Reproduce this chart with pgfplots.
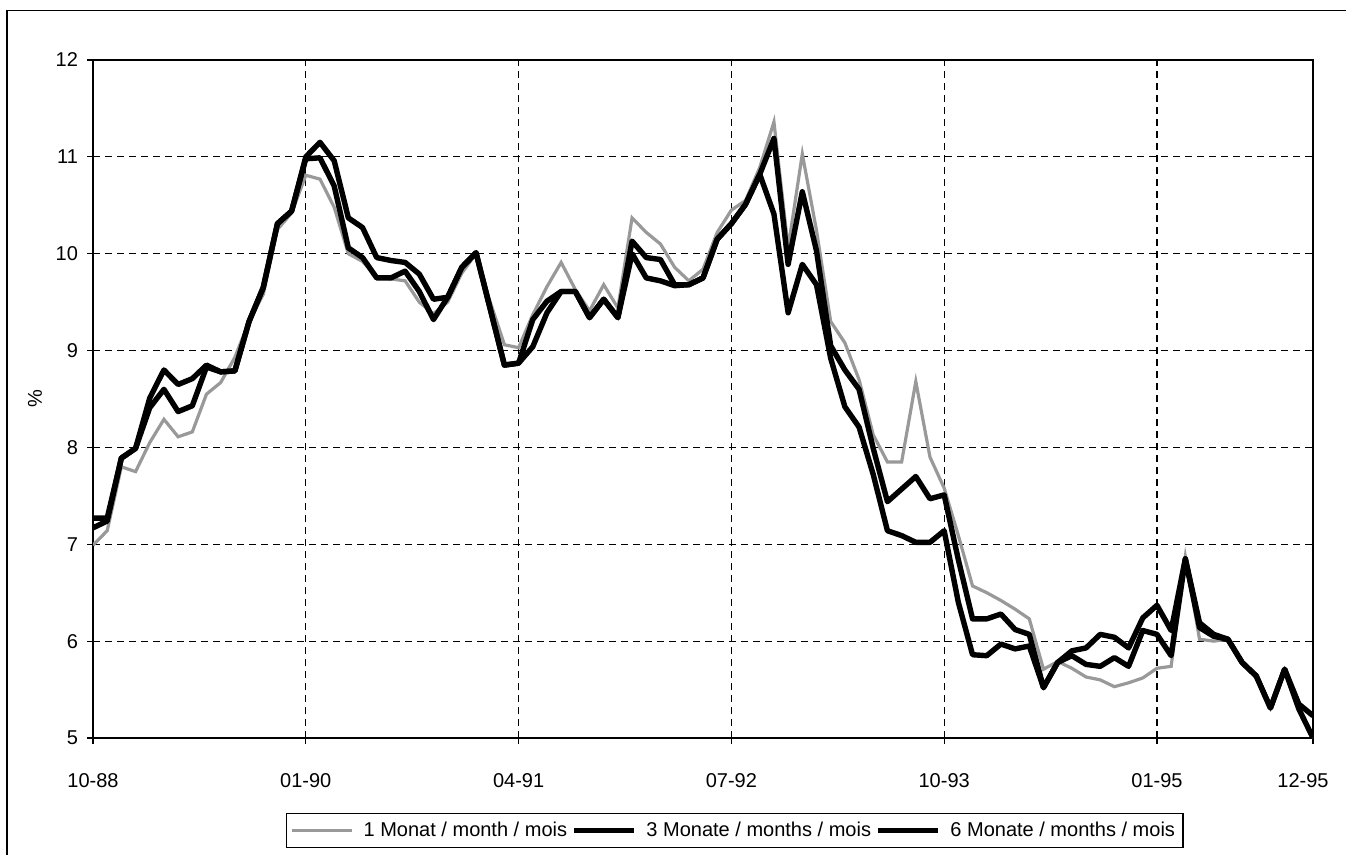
\documentclass[border=0pt]{standalone}
\usepackage{fontspec}
\setmainfont{Liberation Sans}
\usepackage{pgfplots}
\usepackage{pgfplotstable}
\pgfplotsset{compat=1.18}

% i = Monat ab 10-88; g = 1 Monat, a = 3 Monate, b = 6 Monate
\pgfplotstableread{
i g a b
0 6.99 7.27 7.17
1 7.14 7.27 7.24
2 7.80 7.89 7.89
3 7.75 7.99 7.99
4 8.05 8.51 8.41
5 8.29 8.80 8.60
6 8.11 8.65 8.37
7 8.16 8.71 8.43
8 8.55 8.85 8.83
9 8.67 8.78 8.78
10 8.93 8.79 8.79
11 9.30 9.30 9.30
12 9.58 9.65 9.65
13 10.25 10.31 10.31
14 10.42 10.44 10.44
15 10.81 11.00 10.98
16 10.77 11.15 10.99
17 10.48 10.96 10.70
18 10.00 10.37 10.06
19 9.92 10.27 9.96
20 9.76 9.96 9.75
21 9.74 9.93 9.75
22 9.72 9.91 9.82
23 9.50 9.79 9.61
24 9.38 9.53 9.32
25 9.50 9.55 9.55
26 9.80 9.86 9.86
27 10.00 10.01 10.01
28 9.50 9.43 9.43
29 9.06 8.85 8.85
30 9.03 8.87 8.87
31 9.37 9.32 9.04
32 9.66 9.51 9.39
33 9.91 9.61 9.61
34 9.63 9.61 9.61
35 9.41 9.34 9.34
36 9.68 9.53 9.53
37 9.44 9.34 9.34
38 10.37 10.13 10.00
39 10.22 9.96 9.75
40 10.10 9.94 9.72
41 9.86 9.68 9.67
42 9.72 9.68 9.68
43 9.84 9.75 9.75
44 10.22 10.15 10.15
45 10.45 10.31 10.31
46 10.55 10.51 10.51
47 10.89 10.82 10.82
48 11.36 11.19 10.41
49 10.06 9.89 9.39
50 11.03 10.64 9.89
51 10.24 10.03 9.68
52 9.30 9.05 8.92
53 9.08 8.80 8.42
54 8.70 8.60 8.21
55 8.13 7.99 7.72
56 7.85 7.44 7.14
57 7.85 7.57 7.09
58 8.68 7.70 7.02
59 7.90 7.47 7.02
60 7.58 7.51 7.14
61 7.09 6.84 6.40
62 6.57 6.23 5.86
63 6.50 6.23 5.85
64 6.42 6.28 5.97
65 6.33 6.12 5.92
66 6.23 6.07 5.95
67 5.71 5.52 5.52
68 5.79 5.78 5.78
69 5.72 5.90 5.85
70 5.63 5.93 5.76
71 5.60 6.07 5.74
72 5.53 6.04 5.83
73 5.57 5.93 5.74
74 5.62 6.24 6.11
75 5.72 6.37 6.07
76 5.74 6.11 5.85
77 6.87 6.85 6.85
78 6.02 6.19 6.14
79 6.00 6.07 6.05
80 6.02 6.02 6.02
81 5.78 5.78 5.78
82 5.62 5.64 5.64
83 5.31 5.31 5.31
84 5.70 5.71 5.71
85 5.30 5.35 5.30
86 5.00 5.23 5.00
}\zinsen

\begin{document}
\begin{tikzpicture}
\begin{axis}[
    scale only axis,
    width=610pt, height=339pt,
    xmin=0, xmax=86,
    ymin=5, ymax=12,
    xtick={0,15,30,45,60,75},
    xticklabels={10-88,01-90,04-91,07-92,10-93,01-95},
    extra x ticks={86},
    extra x tick labels={12-95},
    extra x tick style={xticklabel style={xshift=-5pt}},
    ytick={5,6,...,12},
    tick pos=left,
    tick align=outside,
    major tick length=3pt,
    tick style={black, line width=0.6pt},
    grid=major,
    major grid style={black, line width=0.6pt, dash pattern=on 3.6pt off 2.4pt},
    axis line style={line width=0.8pt},
    font=\fontsize{10}{12}\selectfont,
    /pgf/number format/assume math mode=true,
    yticklabel style={xshift=-1pt},
    xticklabel style={yshift=-11pt},
    ylabel={\%},
    ylabel style={at={(axis description cs:0,0.5)}, anchor=center, yshift=29pt},
    legend columns=3,
    legend image code/.code={\draw[#1] (0pt,0pt) -- (30pt,0pt);},
    legend style={at={(0.526,-0.1364)}, anchor=center, draw=black, line width=0.6pt,
        font=\fontsize{10}{12}\selectfont, inner sep=2pt,
        /tikz/every odd column/.append style={column sep=3pt}},
]
\addplot[black!40, line width=1.6pt] table[x=i, y=g] {\zinsen};
\addlegendentry{1 Monat / month / mois}
\addplot[black, line width=2.7pt, line join=round] table[x=i, y=a] {\zinsen};
\addlegendentry{3 Monate / months / mois}
\addplot[black, line width=2.7pt, line join=round] table[x=i, y=b] {\zinsen};
\addlegendentry{6 Monate / months / mois}
\coordinate (SW) at (rel axis cs:0,0);
\coordinate (NE) at (rel axis cs:1,1);
\end{axis}
\pgfresetboundingbox
\path (SW) ++(-46.5pt,-58.5pt) coordinate (PBL);
\path (NE) ++(16.5pt,30pt) coordinate (PTR);
\path[use as bounding box] (PBL) rectangle (PTR);
\path (SW) ++(-43pt,-58.5pt) coordinate (BL);
\path (SW|-NE) ++(-43pt,24.65pt) coordinate (TL);
\path (NE) ++(16.5pt,24.65pt) coordinate (TR);
\draw[line width=0.7pt] (BL) -- (TL) -- (TR);
\end{tikzpicture}
\end{document}
